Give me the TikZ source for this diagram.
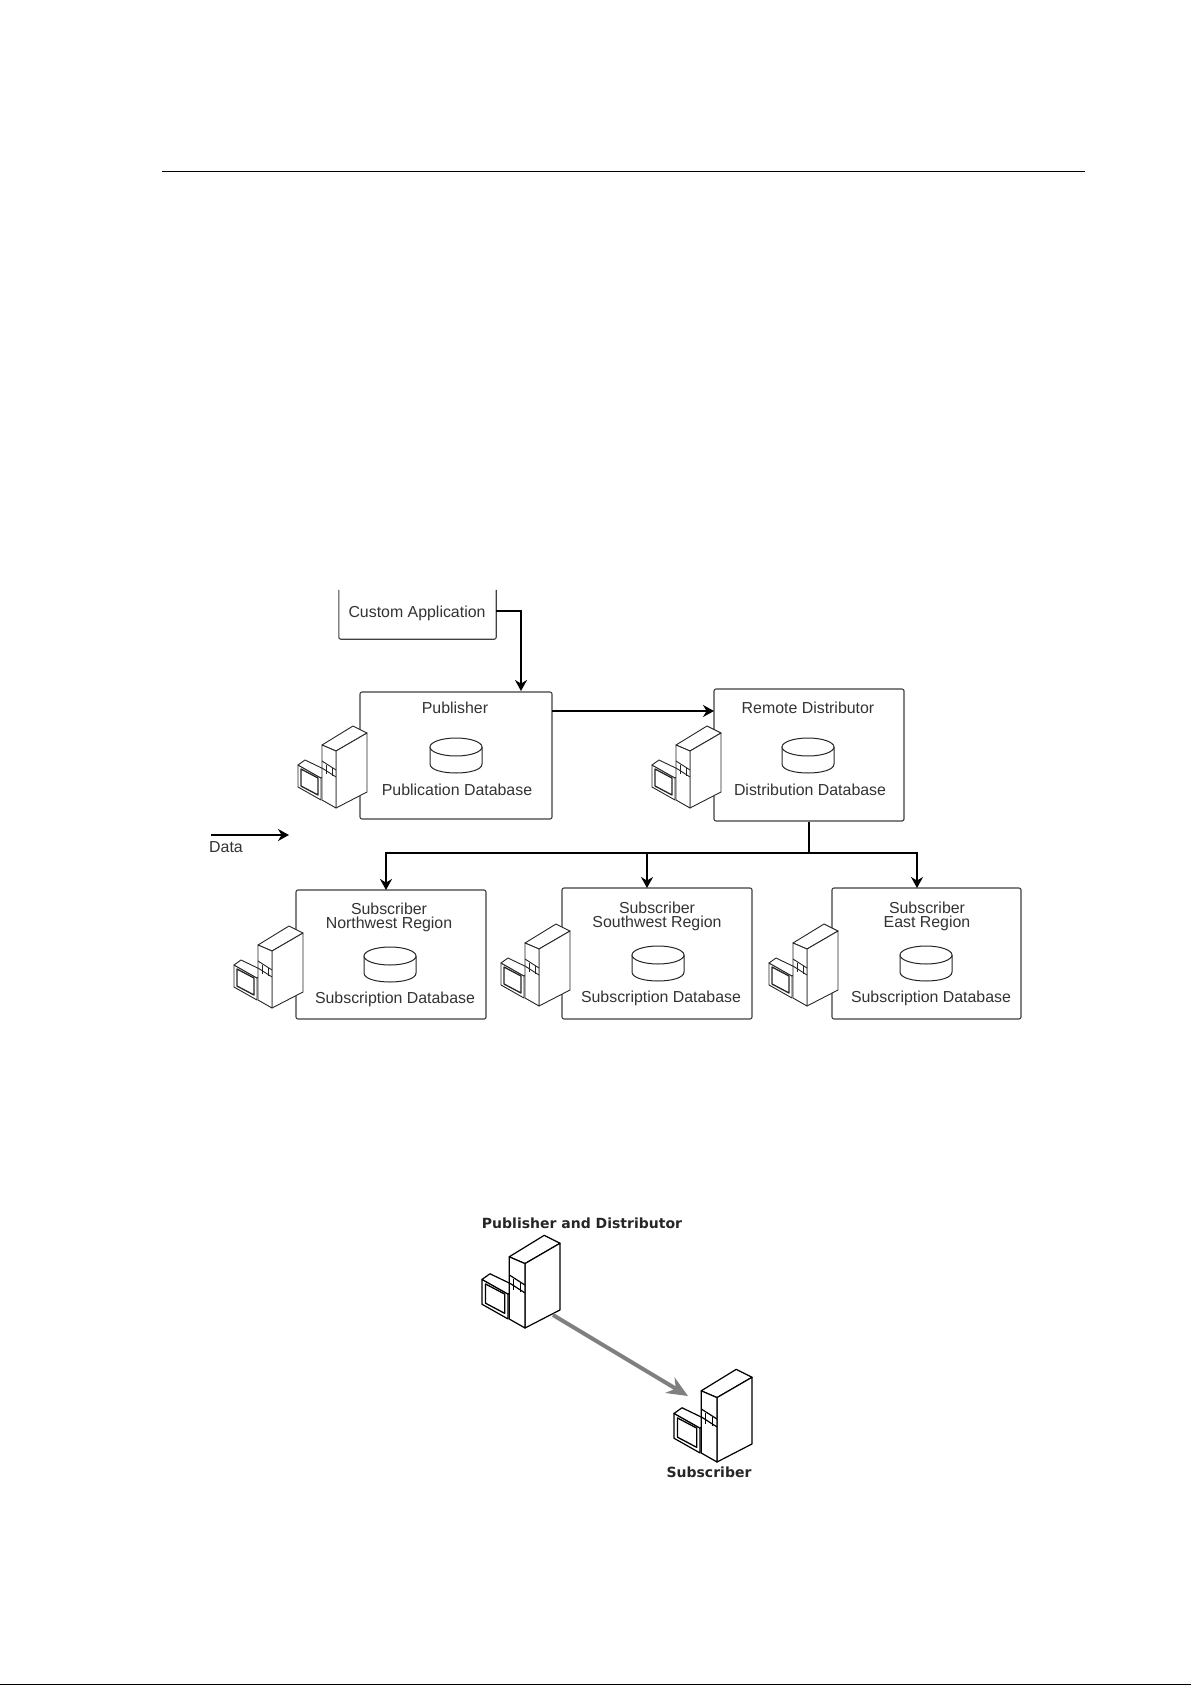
\documentclass[tikz,border=0pt]{standalone}
\usepackage{fontspec}
\setmainfont{Liberation Sans}
\newfontfamily\boldface{DejaVu Sans}
\usetikzlibrary{arrows.meta}
\tikzset{
  x=1pt,y=-1pt,
  box/.style={draw=black!75,line width=1.1pt,rounded corners=2pt,minimum width=#1,inner sep=0pt},
  lbl/.style={font=\fontsize{15.9}{16}\selectfont,text=black!80,inner sep=0pt,anchor=center},
  boldlbl/.style={font=\boldface\fontsize{14}{15}\selectfont\bfseries,text=black!85,inner sep=0pt,anchor=center},
  flow/.style={line width=2.5pt,-{Stealth[length=11pt,width=12pt]}},
  plain/.style={line width=1.6pt},
  srv/.style={line width=.9pt,draw=black!85,line join=round},
  server/.pic={
    % monitor behind the tower
    \draw[srv,fill=white] (-38,-43) -- (-38,-21) -- (-15,-8) -- (-15,-30) -- cycle;
    \draw[srv,fill=white] (-38,-43) -- (-31,-48) -- (-6,-36) -- (-15,-30) -- cycle;
    \draw[srv,line width=1.3pt] (-35,-39) -- (-35,-22) -- (-18,-13) -- (-18,-30) -- cycle;
    % tower
    \draw[srv,fill=white] (-14,-63) -- (17,-82) -- (31,-75) -- (0,-57) -- cycle;
    \draw[srv,fill=white] (0,-57) -- (31,-75) -- (31,-16) -- (0,0) -- cycle;
    \draw[srv,fill=white] (-14,-63) -- (0,-57) -- (0,0) -- (-14,-8) -- cycle;
    \draw[srv] (-14,-47) -- (0,-38) (-14,-40) -- (0,-31);
    \draw[srv] (-10,-43) -- (-10,-34) (-4,-40) -- (-4,-32);
  },
  db/.pic={
    \draw[line width=1pt,draw=black!85,fill=white] (-26,-8) -- (-26,9) .. controls (-26,21) and (26,21) .. (26,9) -- (26,-8);
    \draw[line width=1pt,draw=black!85,fill=white] (0,-8) circle[x radius=26,y radius=9];
  },
}
\begin{document}
\begin{tikzpicture}
\useasboundingbox (0,0) rectangle (1191,1685);
\fill[white] (0,0) rectangle (1191,1685);

% page rules
\coordinate (ruleL) at (162,171);
\coordinate (ruleR) at (1085,171);
\draw[line width=.9pt] (ruleL) -- (ruleR);
\coordinate (footL) at (0,1684.5);
\coordinate (footR) at (1191,1684.5);
\draw[line width=1.5pt] (footL) -- (footR);

% custom application (box open at the top)
\node[minimum width=157pt,minimum height=49pt,inner sep=0pt] (app) at (417.5,614.5) {};
\draw[line width=1.1pt,draw=black!75,rounded corners=2pt] (app.north west) -- (app.south west) -- (app.south east) -- (app.north east);
\node[lbl] (appT) at (417,613) {Custom Application};

% boxes
\node[box=192pt,minimum height=127pt] (pub) at (456,755.5) {};
\node[box=190pt,minimum height=132pt] (rem) at (809,755) {};
\node[box=190pt,minimum height=129pt] (nw) at (391,954.5) {};
\node[box=190pt,minimum height=131pt] (sw) at (657,953.5) {};
\node[box=189pt,minimum height=131pt] (ea) at (926.5,953.5) {};

% labels
\node[lbl] (pubT) at (455,708) {Publisher};
\node[lbl] (pubD) at (457,790) {Publication Database};
\node[lbl] (remT) at (808,708) {Remote Distributor};
\node[lbl] (remD) at (810,790) {Distribution Database};
\node[lbl] (nwT) at (389,909) {Subscriber};
\node[lbl] (nwR) at (389,924) {Northwest Region};
\node[lbl] (nwD) at (395,999) {Subscription Database};
\node[lbl] (swT) at (657,908) {Subscriber};
\node[lbl] (swR) at (657,923) {Southwest Region};
\node[lbl] (swD) at (661,998) {Subscription Database};
\node[lbl] (eaT) at (927,908) {Subscriber};
\node[lbl] (eaR) at (927,923) {East Region};
\node[lbl] (eaD) at (931,998) {Subscription Database};

% databases
\pic (dbP) at (456,755) {db};
\pic (dbR) at (808,755) {db};
\pic (dbN) at (390,964) {db};
\pic (dbS) at (658,963) {db};
\pic (dbE) at (926,963) {db};

% servers
\pic (sP) at (336,808) {server};
\pic (sR) at (690,808) {server};
\pic (sN) at (272,1008) {server};
\pic (sS) at (539,1006) {server};
\pic (sE) at (807,1006) {server};

% connectors
\coordinate (appOut) at (496,611);
\coordinate (pubIn) at (521,691);
\draw[flow] (appOut) -| (pubIn);
\coordinate (pubOut) at (552,711);
\coordinate (remIn) at (714,711);
\draw[flow] (pubOut) -- (remIn);
\coordinate (bus) at (809,853);
\draw[plain] (rem.south) -- (bus);
\coordinate (nwIn) at (386,890);
\coordinate (swIn) at (647,888);
\coordinate (eaIn) at (917,888);
\draw[flow] (bus) -| (nwIn);
\draw[flow] (bus) -| (eaIn);
\coordinate (swTap) at (647,853);
\draw[flow] (swTap) -- (swIn);

% legend
\coordinate (legA) at (211,835);
\coordinate (legB) at (289,835);
\draw[flow] (legA) -- (legB);
\node[lbl,anchor=west] (legT) at (209,847) {Data};

% lower figure
\node[boldlbl] (pdT) at (582,1223) {Publisher and Distributor};
\node[boldlbl] (subT) at (709,1472) {Subscriber};
\pic[scale=1.13,srv/.append style={line width=1.2pt,draw=black}] (s1) at (525,1328) {server};
\pic[scale=1.13,srv/.append style={line width=1.2pt,draw=black}] (s2) at (717,1462) {server};
\coordinate (grayA) at (553,1315);
\coordinate (grayB) at (688,1396);
\draw[line width=4pt,draw=black!50,-{Stealth[length=21pt,width=18pt]}] (grayA) -- (grayB);
\end{tikzpicture}
\end{document}
